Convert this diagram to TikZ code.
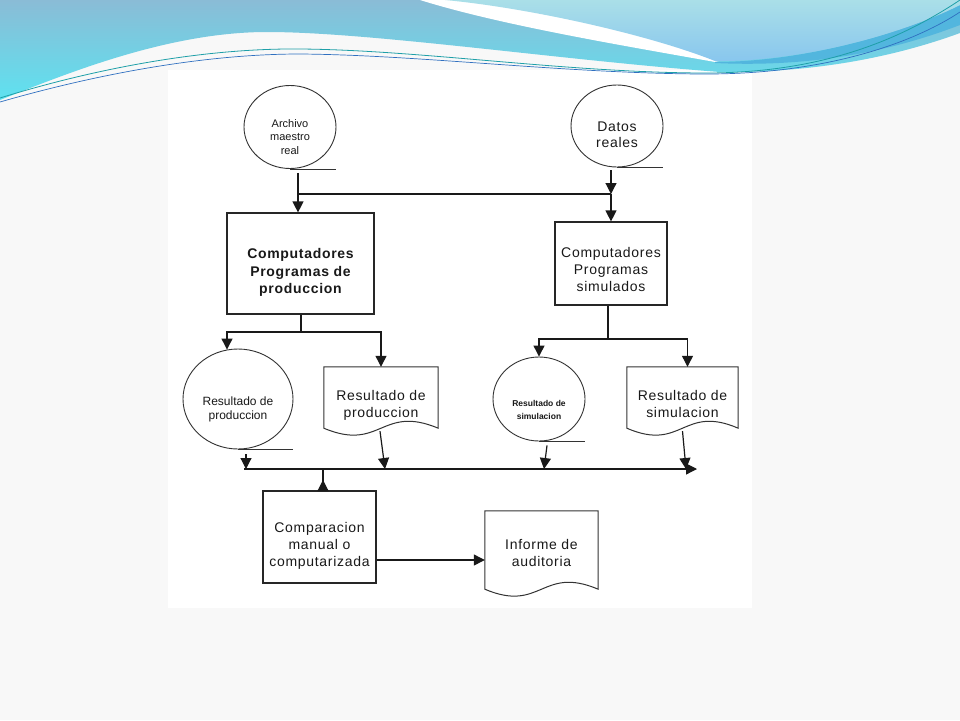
\documentclass[tikz,border=0pt]{standalone}
\usepackage{fontspec}
\setmainfont{Liberation Sans}
\newfontfamily\spc[LetterSpace=5]{Liberation Sans}
\usetikzlibrary{shapes.geometric,arrows.meta,calc}
\definecolor{bgc}{HTML}{F8F8F8}
\definecolor{waveAtop}{HTML}{8ABCD6}
\definecolor{waveAbot}{HTML}{5EE2F0}
\definecolor{waveUtop}{HTML}{AADFE8}
\definecolor{waveUbot}{HTML}{88C6EE}
\definecolor{swoosh}{HTML}{52B6DE}
\definecolor{tealline}{HTML}{1E9FA8}
\definecolor{blueline}{HTML}{3070C0}
\newcommand\tx[2]{\raisebox{#1}[\height][\depth]{\begin{tabular}{@{}c@{}}#2\end{tabular}}}
\newcommand\docshape[1]{\draw[docline] (#1.north west) -- (#1.north east) -- (#1.south east) .. controls ($(#1.south)+(0,-24)$) and ($(#1.south)+(0,24)$) .. (#1.south west) -- cycle;}
\begin{document}
\begin{tikzpicture}[x=1pt,y=-1pt,
  ln/.style={line width=1.2pt,draw=black!90},
  arr/.style={ln,-{Triangle[length=11pt,width=11pt]}},
  cline/.style={line width=0.9pt,draw=black!80},
  boxn/.style={draw=black!85,line width=1.2pt,inner sep=0pt,align=center,text=black!90},
  circn/.style={ellipse,draw=black!80,line width=0.9pt,inner sep=0pt,text=black!90},
  docn/.style={inner sep=0pt,align=center,text=black!90},
  docline/.style={draw=black!80,line width=1pt},
  f14/.style={font=\fontsize{14}{17}\selectfont\spc}]
\useasboundingbox (0,0) rectangle (960,720);
\fill[bgc] (0,0) rectangle (960,720);
\fill[white] (168,70) rectangle (752,608);
% waves
\shade[top color=waveAtop,bottom color=waveAbot] (0,0) -- (960,0) -- (960,33) .. controls (900,55) and (820,73) .. (720,72) .. controls (560,60) and (370,32) .. (267,32) .. controls (170,32) and (70,72) .. (0,100) -- cycle;
\fill[white] (420,0) .. controls (500,25) and (620,45) .. (715,62) -- (960,0) -- cycle;
\fill[swoosh] (715,62) .. controls (800,62) and (900,35) .. (960,5) -- (960,25) .. controls (900,48) and (820,68) .. (715,63) -- cycle;
\shade[top color=waveUtop,bottom color=waveUbot] (445,0) .. controls (530,8) and (650,35) .. (715,61) .. controls (800,62) and (900,35) .. (960,5) -- (960,0) -- cycle;
\draw[tealline,line width=0.8pt] (0,98) .. controls (90,70) and (200,48) .. (300,49) .. controls (420,50) and (560,72) .. (700,73) .. controls (820,74) and (900,40) .. (960,0);
\draw[blueline,line width=0.7pt] (0,102) .. controls (90,76) and (200,54) .. (300,54) .. controls (420,55) and (560,73) .. (700,74) .. controls (820,75) and (910,45) .. (960,12);
% nodes
\node[circn,minimum width=92pt,minimum height=83pt,font=\fontsize{11}{13.5}\selectfont] (c1) at (290,127) {\tx{-11pt}{Archivo\\maestro\\real}};
\node[boxn,minimum width=147pt,minimum height=101pt,font=\fontsize{14}{17.5}\selectfont\spc\bfseries] (b1) at (300.5,263.5) {\tx{-9pt}{Computadores\\Programas de\\produccion}};
\node[circn,minimum width=92pt,minimum height=82pt,font=\fontsize{14}{16}\selectfont\spc] (c2) at (617,126) {\tx{-10pt}{Datos\\reales}};
\node[boxn,minimum width=112pt,minimum height=83pt,f14] (b2) at (611,263.5) {\tx{-8pt}{Computadores\\Programas\\simulados}};
\node[circn,minimum width=110pt,minimum height=100pt,font=\fontsize{12}{14}\selectfont] (c3) at (238,399) {\tx{-11pt}{Resultado de\\produccion}};
\node[docn,minimum width=114pt,minimum height=61pt,f14] (d1) at (381,397.5) {\tx{-8pt}{Resultado de\\produccion}};
\node[circn,minimum width=92pt,minimum height=84pt,font=\fontsize{8.5}{13}\selectfont\bfseries] (c4) at (539,399) {\tx{-11pt}{Resultado de\\simulacion}};
\node[docn,minimum width=111pt,minimum height=61pt,f14] (d2) at (682.5,397.5) {\tx{-8pt}{Resultado de\\simulacion}};
\node[boxn,minimum width=113pt,minimum height=92pt,f14] (b3) at (319.5,537) {\tx{-9pt}{Comparacion\\manual o\\computarizada}};
\node[docn,minimum width=113pt,minimum height=78pt,f14] (d3) at (541.5,550) {\tx{-5pt}{Informe de\\auditoria}};
\docshape{d1}
\docshape{d2}
\docshape{d3}
% underlines of data stores
\draw[cline] (c1.south) -- (c1.south-|c1.east);
\draw[cline] (c2.south) -- (c2.south-|c2.east);
\draw[cline] (c3.south) -- (c3.south-|c3.east);
\draw[cline] (c4.south) -- (c4.south-|c4.east);
% coordinates
\coordinate (j1) at (298,194);
\coordinate (j2) at (611,194);
\coordinate (j3) at (301,332);
\coordinate (j4) at (608,339);
\coordinate (hL) at (244,469);
\coordinate (hR) at (697,469);
\coordinate (a3) at (246,469);
\coordinate (a4) at (385,469);
\coordinate (a5) at (544,469);
\coordinate (a6) at (686,469);
\coordinate (a7) at (323,469);
\coordinate (a7b) at (323,480);
\coordinate (r1) at (0,560);
% connectors
\draw[arr] ($(c1.south-|j1)+(0,4)$) -- (b1.north-|j1);
\draw[ln] (j1) -- (j2);
\draw[arr] ($(c2.south-|j2)+(0,3)$) -- (j2);
\draw[arr] (j2) -- (b2.north-|j2);
\draw[ln] (b1.south-|j3) -- (j3);
\draw[arr] (j3) -| ($(c3.north)+(-11,1)$);
\draw[arr] (j3) -| (d1.north);
\draw[ln] (b2.south-|j4) -- (j4);
\draw[arr] (j4) -| (c4.north);
\draw[arr] (j4) -| ($(d2.north)+(5,0)$);
\draw[arr] ($(c3.south)+(8,5)$) -- (a3);
\draw[arr] ($(d1.south)+(-1,3)$) -- (a4);
\draw[arr] ($(c4.south)+(8,4)$) -- (a5);
\draw[arr] ($(d2.south)+(0,3)$) -- (a6);
\draw[arr] (hL) -- (hR);
\draw[ln] (b3.north-|a7) -- (a7);
\draw[arr] (b3.north-|a7) -- (a7b);
\draw[arr] (b3.east|-r1) -- (d3.west|-r1);
\end{tikzpicture}
\end{document}
